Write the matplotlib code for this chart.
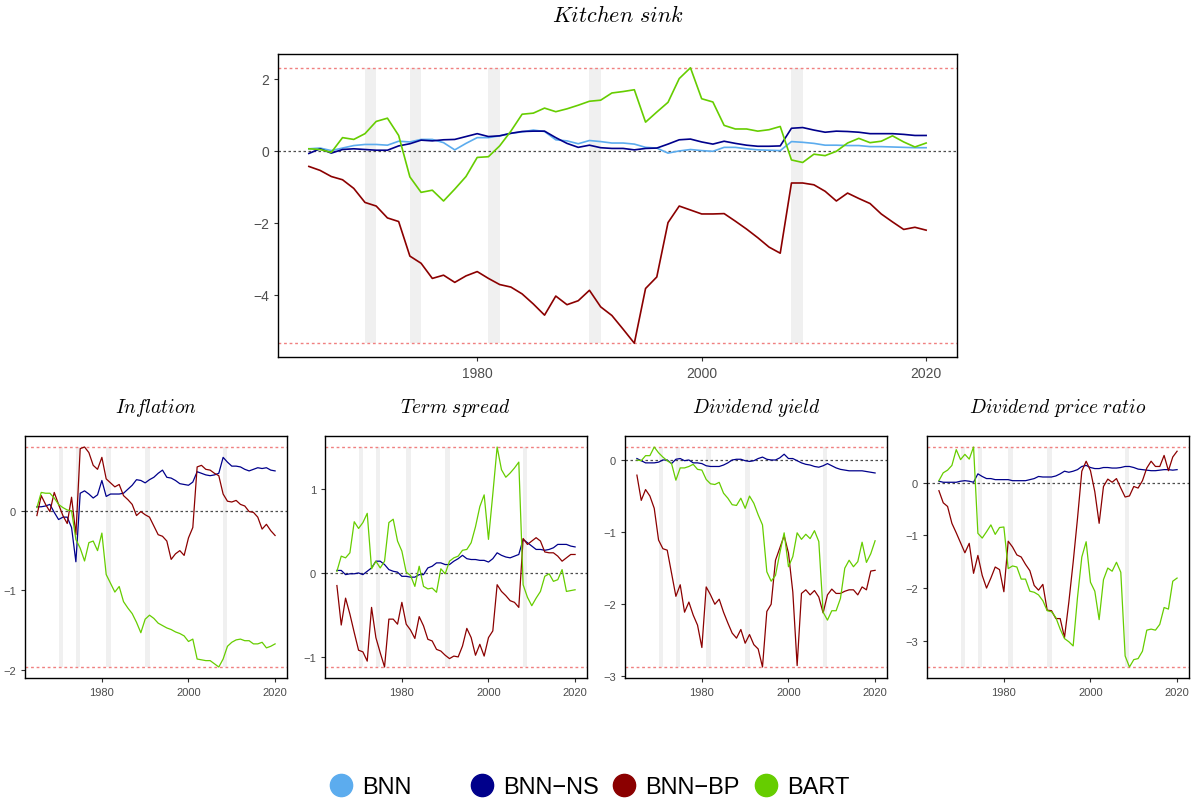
import numpy as np
import matplotlib.pyplot as plt
from matplotlib.lines import Line2D
from matplotlib.ticker import MultipleLocator

plt.rcParams['font.family'] = ['Liberation Sans', 'DejaVu Sans']
plt.rcParams['mathtext.fontset'] = 'cm'

years = np.arange(1965, 2021)
recessions = [1970, 1974, 1981, 1990, 2008]

# Kitchen sink
ks_bnn = [0.05, 0.07, 0.00, 0.07, 0.14, 0.17, 0.17, 0.15, 0.26, 0.24,
          0.31, 0.31, 0.22, 0.02, 0.20, 0.36, 0.36, 0.41, 0.48, 0.52,
          0.57, 0.53, 0.30, 0.27, 0.19, 0.28, 0.25, 0.21, 0.21, 0.18,
          0.09, 0.07, -0.07, -0.01, 0.03, 0.00, -0.02, 0.09, 0.09, 0.05,
          0.02, 0.01, 0.00, 0.25, 0.23, 0.20, 0.15, 0.15, 0.14, 0.14,
          0.11, 0.11, 0.10, 0.09, 0.08, 0.08]
ks_ns = [-0.08, 0.05, -0.07, 0.03, 0.05, 0.03, 0.01, 0.01, 0.13, 0.19,
         0.29, 0.27, 0.30, 0.31, 0.39, 0.47, 0.39, 0.41, 0.48, 0.53,
         0.54, 0.54, 0.36, 0.20, 0.09, 0.15, 0.08, 0.06, 0.06, 0.02,
         0.06, 0.07, 0.18, 0.30, 0.32, 0.24, 0.18, 0.26, 0.20, 0.15,
         0.12, 0.12, 0.13, 0.62, 0.64, 0.57, 0.51, 0.54, 0.53, 0.51,
         0.47, 0.47, 0.47, 0.45, 0.42, 0.42]
ks_bp = [-0.44, -0.55, -0.72, -0.81, -1.05, -1.44, -1.54, -1.87, -1.97, -2.93,
         -3.13, -3.55, -3.46, -3.66, -3.48, -3.36, -3.55, -3.72, -3.79, -3.98,
         -4.26, -4.57, -4.04, -4.28, -4.17, -3.88, -4.34, -4.58, -4.96, -5.35,
         -3.83, -3.51, -2.00, -1.54, -1.65, -1.76, -1.76, -1.75, -1.96, -2.18,
         -2.42, -2.68, -2.85, -0.90, -0.90, -0.95, -1.13, -1.40, -1.18, -1.33,
         -1.47, -1.76, -1.98, -2.19, -2.13, -2.21]
ks_bart = [0.05, 0.03, -0.05, 0.36, 0.31, 0.47, 0.81, 0.90, 0.42, -0.73,
           -1.16, -1.10, -1.40, -1.07, -0.72, -0.19, -0.17, 0.13, 0.54, 1.01,
           1.04, 1.18, 1.08, 1.16, 1.26, 1.37, 1.40, 1.60, 1.64, 1.69,
           0.79, 1.07, 1.34, 2.00, 2.30, 1.44, 1.35, 0.70, 0.60, 0.60,
           0.54, 0.58, 0.67, -0.26, -0.33, -0.10, -0.14, -0.02, 0.21, 0.34,
           0.22, 0.26, 0.41, 0.24, 0.10, 0.21]

# Inflation
inf_ns = [0.05, 0.05, 0.06, 0.08, -0.02, -0.11, -0.08, -0.08, -0.21, -0.64,
          0.22, 0.25, 0.21, 0.16, 0.20, 0.38, 0.18, 0.21, 0.21, 0.21,
          0.22, 0.27, 0.32, 0.39, 0.38, 0.35, 0.39, 0.42, 0.47, 0.51,
          0.42, 0.41, 0.38, 0.34, 0.33, 0.32, 0.36, 0.49, 0.47, 0.45,
          0.44, 0.45, 0.47, 0.67, 0.61, 0.56, 0.56, 0.55, 0.52, 0.50,
          0.52, 0.54, 0.53, 0.54, 0.51, 0.50]
inf_bp = [-0.06, 0.19, 0.08, -0.01, 0.23, 0.08, -0.06, -0.16, 0.17, -0.30,
          0.78, 0.80, 0.73, 0.57, 0.52, 0.67, 0.40, 0.35, 0.30, 0.33,
          0.19, 0.14, 0.08, -0.06, -0.01, -0.05, -0.08, -0.19, -0.30, -0.32,
          -0.38, -0.61, -0.54, -0.50, -0.56, -0.34, -0.21, 0.55, 0.57, 0.52,
          0.51, 0.47, 0.44, 0.21, 0.12, 0.11, 0.13, 0.08, 0.06, -0.01,
          -0.02, -0.08, -0.23, -0.17, -0.25, -0.31]
inf_bart = [0.04, 0.23, 0.22, 0.22, 0.16, 0.08, 0.04, 0.01, 0.00, -0.36,
            -0.47, -0.63, -0.40, -0.38, -0.50, -0.28, -0.80, -0.91, -1.02, -0.95,
            -1.14, -1.22, -1.29, -1.40, -1.53, -1.36, -1.31, -1.35, -1.41, -1.44,
            -1.47, -1.49, -1.52, -1.54, -1.57, -1.64, -1.61, -1.86, -1.87, -1.88,
            -1.88, -1.92, -1.96, -1.86, -1.70, -1.65, -1.62, -1.61, -1.63, -1.63,
            -1.67, -1.67, -1.65, -1.72, -1.70, -1.67]

# Term spread
ts_ns = [0.03, 0.03, -0.02, -0.01, -0.01, 0.00, -0.02, 0.02, 0.06, 0.14,
         0.14, 0.10, 0.04, 0.02, 0.01, -0.04, -0.04, -0.05, -0.05, -0.02,
         -0.02, 0.06, 0.08, 0.12, 0.12, 0.10, 0.10, 0.14, 0.17, 0.21,
         0.17, 0.16, 0.16, 0.15, 0.15, 0.13, 0.17, 0.24, 0.21, 0.19,
         0.18, 0.20, 0.22, 0.40, 0.36, 0.32, 0.28, 0.28, 0.27, 0.28,
         0.30, 0.34, 0.34, 0.34, 0.32, 0.31]
ts_bp = [-0.15, -0.62, -0.30, -0.49, -0.71, -0.92, -0.94, -1.05, -0.41, -0.77,
         -0.95, -1.12, -0.55, -0.55, -0.61, -0.35, -0.61, -0.68, -0.78, -0.52,
         -0.63, -0.79, -0.81, -0.91, -0.93, -0.98, -1.02, -0.99, -1.00, -0.87,
         -0.66, -0.77, -0.98, -0.85, -0.99, -0.77, -0.69, -0.14, -0.22, -0.27,
         -0.33, -0.35, -0.41, 0.41, 0.34, 0.38, 0.42, 0.38, 0.25, 0.24,
         0.24, 0.20, 0.14, 0.18, 0.22, 0.22]
ts_bart = [0.02, 0.20, 0.18, 0.24, 0.61, 0.53, 0.60, 0.71, 0.05, 0.14,
           0.06, 0.14, 0.60, 0.64, 0.38, 0.26, 0.01, -0.03, -0.16, 0.08,
           -0.16, -0.19, -0.18, -0.23, 0.05, -0.01, 0.14, 0.18, 0.20, 0.27,
           0.28, 0.36, 0.55, 0.79, 0.93, 0.40, 0.94, 1.50, 1.23, 1.14,
           1.19, 1.25, 1.32, -0.14, -0.29, -0.39, -0.30, -0.22, -0.04, -0.01,
           -0.10, -0.08, 0.04, -0.22, -0.21, -0.20]

# Dividend yield
dy_ns = [0.02, -0.01, -0.04, -0.04, -0.04, -0.03, 0.00, 0.00, -0.05, 0.01,
         0.02, -0.01, 0.00, -0.04, -0.04, -0.05, -0.08, -0.09, -0.09, -0.09,
         -0.07, -0.04, 0.00, 0.01, 0.01, -0.01, -0.02, -0.01, 0.02, 0.04,
         0.01, 0.00, 0.00, 0.03, 0.08, 0.02, 0.02, -0.01, -0.04, -0.06,
         -0.07, -0.09, -0.10, -0.08, -0.05, -0.08, -0.11, -0.13, -0.14, -0.15,
         -0.15, -0.15, -0.15, -0.16, -0.17, -0.18]
dy_bp = [-0.21, -0.56, -0.41, -0.50, -0.67, -1.11, -1.23, -1.25, -1.57, -1.89,
         -1.73, -2.11, -1.97, -2.15, -2.29, -2.60, -1.76, -1.87, -2.00, -1.93,
         -2.11, -2.26, -2.40, -2.47, -2.35, -2.54, -2.42, -2.56, -2.62, -2.87,
         -2.10, -2.00, -1.39, -1.22, -1.05, -1.29, -1.83, -2.85, -1.85, -1.80,
         -1.87, -1.81, -1.90, -2.12, -1.87, -1.79, -1.85, -1.85, -1.82, -1.80,
         -1.80, -1.87, -1.76, -1.80, -1.54, -1.53]
dy_bart = [0.00, -0.01, 0.06, 0.06, 0.18, 0.10, 0.04, -0.01, -0.05, -0.28,
           -0.11, -0.11, -0.09, -0.06, -0.13, -0.14, -0.27, -0.33, -0.34, -0.31,
           -0.46, -0.53, -0.62, -0.63, -0.53, -0.67, -0.50, -0.60, -0.76, -0.90,
           -1.55, -1.68, -1.60, -1.29, -1.01, -1.48, -1.34, -1.01, -1.10, -1.03,
           -1.09, -0.98, -1.13, -2.11, -2.22, -2.09, -2.09, -1.92, -1.50, -1.39,
           -1.48, -1.41, -1.14, -1.42, -1.30, -1.12]

# Dividend price ratio
dp_ns = [0.03, 0.01, 0.01, 0.01, 0.01, 0.03, 0.04, 0.03, 0.01, 0.17,
         0.12, 0.08, 0.08, 0.06, 0.06, 0.06, 0.06, 0.04, 0.04, 0.04,
         0.04, 0.06, 0.08, 0.12, 0.11, 0.11, 0.11, 0.13, 0.17, 0.22,
         0.20, 0.22, 0.25, 0.31, 0.33, 0.29, 0.27, 0.27, 0.29, 0.29,
         0.28, 0.28, 0.29, 0.31, 0.31, 0.29, 0.26, 0.25, 0.24, 0.23,
         0.23, 0.24, 0.25, 0.25, 0.24, 0.25]
dp_bp = [-0.15, -0.38, -0.45, -0.77, -0.95, -1.14, -1.33, -1.15, -1.72, -1.38,
         -1.76, -2.00, -1.81, -1.60, -1.65, -2.07, -1.11, -1.22, -1.37, -1.41,
         -1.55, -1.67, -1.95, -2.04, -1.93, -2.42, -2.43, -2.58, -2.58, -2.94,
         -2.27, -1.51, -0.68, 0.22, 0.41, 0.23, -0.17, -0.77, -0.07, 0.07,
         0.01, 0.08, -0.10, -0.27, -0.25, -0.07, -0.10, 0.04, 0.28, 0.41,
         0.31, 0.31, 0.52, 0.23, 0.49, 0.60]
dp_bart = [0.04, 0.19, 0.24, 0.33, 0.63, 0.44, 0.54, 0.45, 0.68, -0.96,
           -1.05, -0.93, -0.80, -0.98, -0.85, -0.84, -1.63, -1.58, -1.60, -1.83,
           -1.83, -2.06, -2.08, -2.13, -2.24, -2.43, -2.45, -2.56, -2.78, -2.96,
           -3.02, -3.10, -2.18, -1.41, -1.12, -1.89, -2.06, -2.60, -1.84, -1.62,
           -1.68, -1.51, -1.70, -3.29, -3.50, -3.36, -3.34, -3.20, -2.80, -2.78,
           -2.80, -2.69, -2.37, -2.40, -1.87, -1.81]

model_names = ['BNN', 'BNN\u2212NS', 'BNN\u2212BP', 'BART']
colors = ['#5CACEE', '#00008B', '#8B0000', '#66CD00']


def draw_panel(ax, title, series, title_size, tick_size, lw, pad):
    allv = np.concatenate([np.array(v) for v, c in series])
    lo, hi = allv.min(), allv.max()
    for r in recessions:
        ax.fill_between([r, r + 1], lo, hi, color='#F0F0F0', lw=0, zorder=0)
    ax.axhline(hi, color='#F08080', ls=(0, (2, 2)), lw=1, zorder=1)
    ax.axhline(lo, color='#F08080', ls=(0, (2, 2)), lw=1, zorder=1)
    ax.axhline(0, color='#4D4D4D', ls=(0, (2, 2)), lw=0.9, zorder=1)
    for vals, col in series:
        ax.plot(years, vals, color=col, lw=lw, zorder=2)
    ax.set_title(title, fontsize=title_size, pad=pad)
    ax.set_xticks([1980, 2000, 2020])
    ax.yaxis.set_major_locator(MultipleLocator(1))
    ax.tick_params(length=3, color='#333333', labelcolor='#4D4D4D',
                   labelsize=tick_size, width=0.8)
    for s in ax.spines.values():
        s.set_color('black')
        s.set_linewidth(1)


fig = plt.figure(figsize=(11.92, 8.04), dpi=100)

ax_top = fig.add_axes([278 / 1192, 1 - 358 / 804, 679 / 1192, 303 / 804])
draw_panel(ax_top, r'$\mathit{Kitchen\ sink}$',
           [(ks_bnn, colors[0]), (ks_ns, colors[1]), (ks_bp, colors[2]), (ks_bart, colors[3])],
           16, 10, 1.2, 24)
ax_top.yaxis.set_major_locator(MultipleLocator(2))

panels = [
    (r'$\mathit{Inflation}$', inf_ns, inf_bp, inf_bart),
    (r'$\mathit{Term\ spread}$', ts_ns, ts_bp, ts_bart),
    (r'$\mathit{Dividend\ yield}$', dy_ns, dy_bp, dy_bart),
    (r'$\mathit{Dividend\ price\ ratio}$', dp_ns, dp_bp, dp_bart),
]
lefts = [25, 325, 625, 927]
for left, (title, ns, bp, bart) in zip(lefts, panels):
    ax = fig.add_axes([left / 1192, 1 - 679 / 804, 262 / 1192, 242 / 804])
    draw_panel(ax, title, [(ns, colors[1]), (bp, colors[2]), (bart, colors[3])],
               14, 8, 0.9, 17)

# legend, one key per slot so that keys are evenly spaced
slots = [329, 470, 612, 754]
for x, name, col in zip(slots, model_names, colors):
    h = Line2D([], [], marker='o', ls='', color=col, markersize=16)
    fig.legend([h], [name], loc='center left', bbox_to_anchor=(x / 1192, 1 - 788 / 804),
               frameon=False, fontsize=17, handlelength=1, handletextpad=0.4,
               borderpad=0, borderaxespad=0)

fig.savefig('out.png', dpi=100)
